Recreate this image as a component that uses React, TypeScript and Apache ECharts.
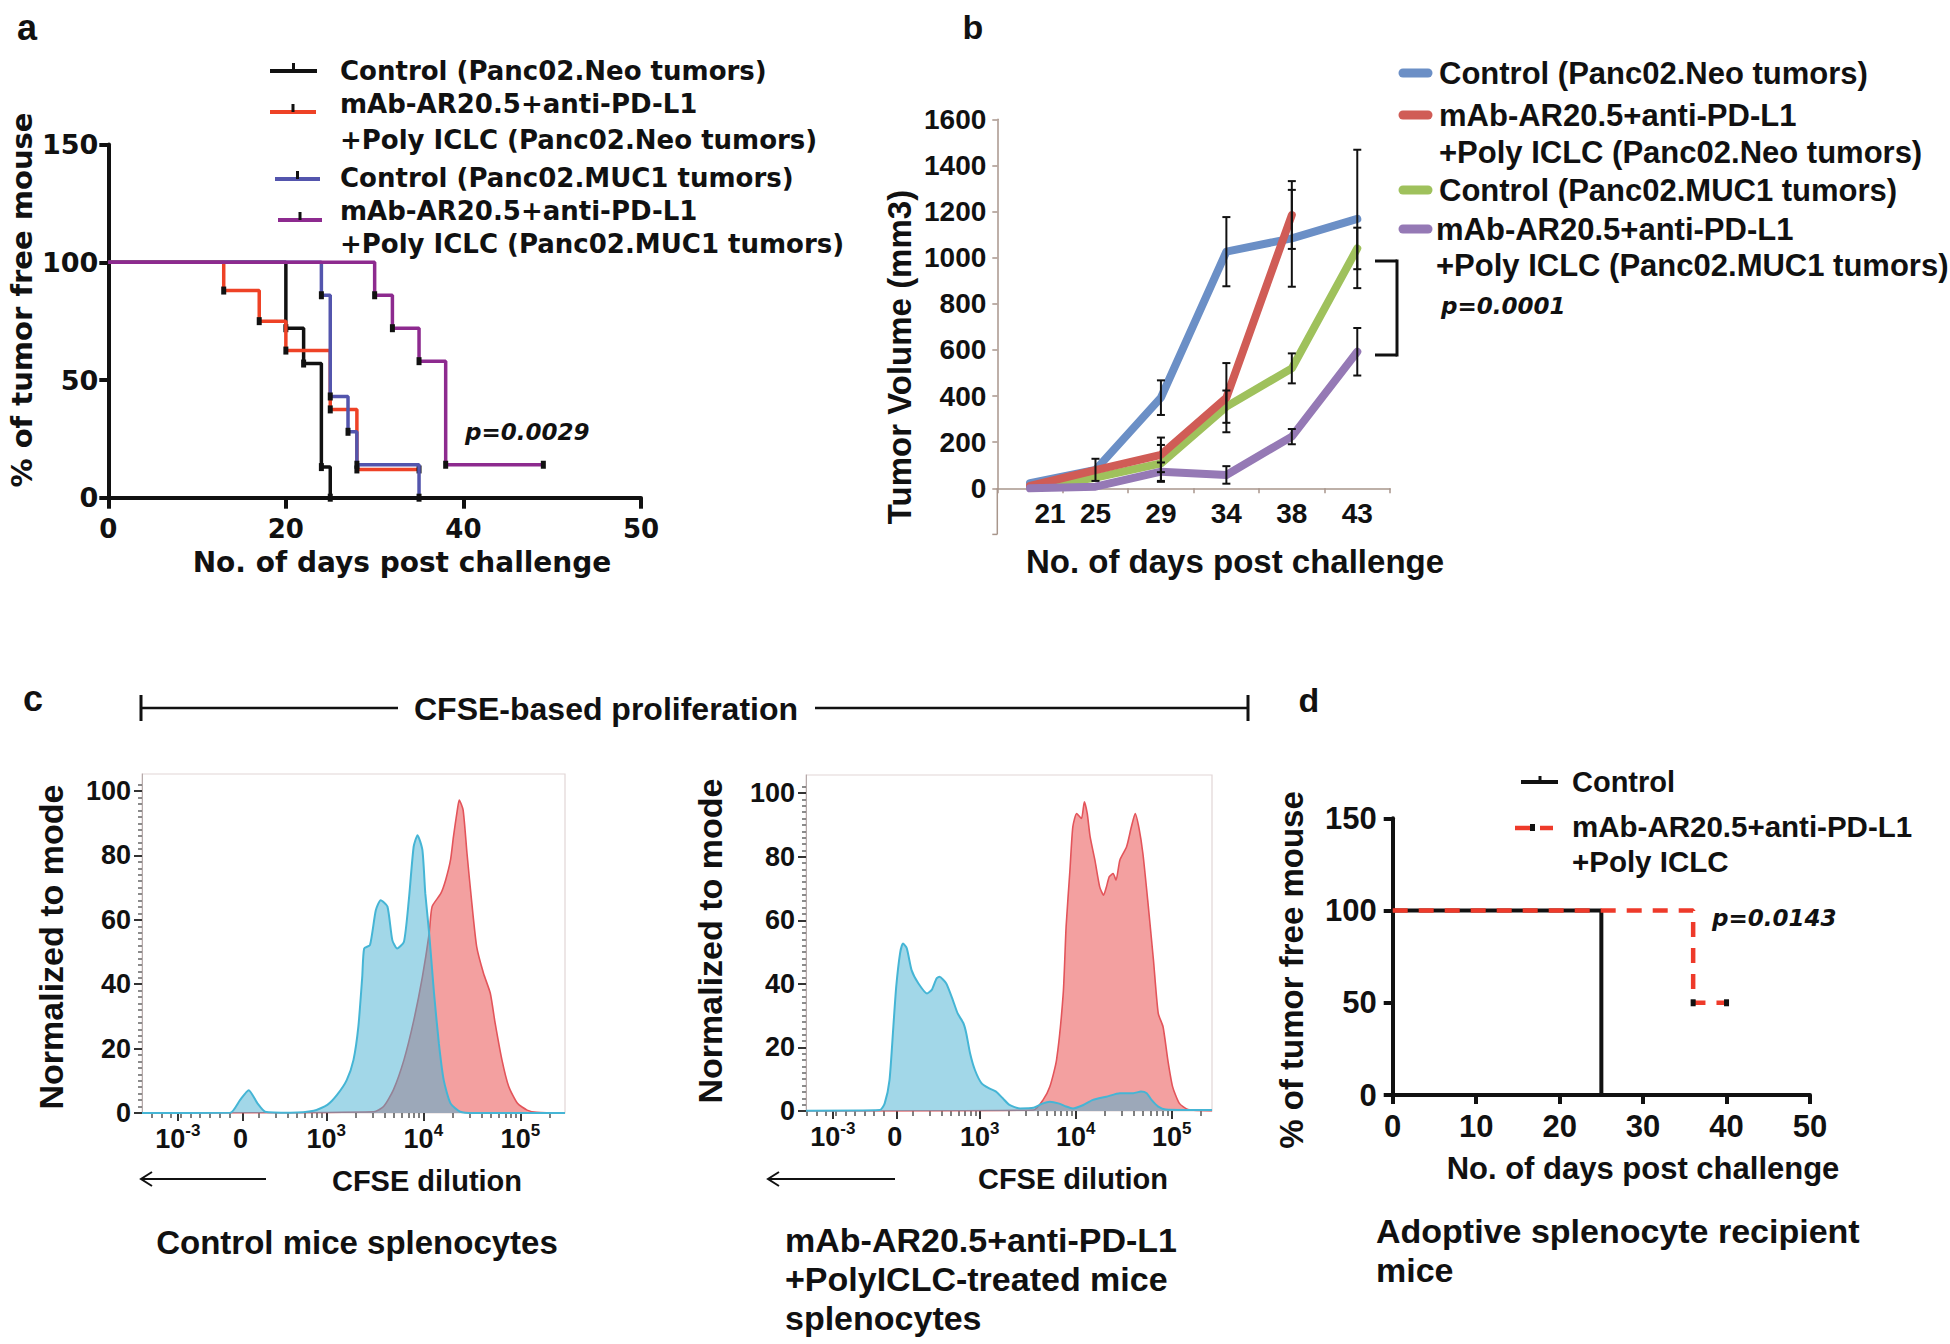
import React, { useEffect, useRef } from 'react';
import * as echarts from 'echarts';

const FONT_A = '"DejaVu Sans", sans-serif';
const FONT = '"Liberation Sans", Arial, sans-serif';

// ---------- Panel a : Kaplan-Meier (x in plotted units, axis reads 0/20/40/50)
const A_X_TICK_LABELS = ['0', '20', '40', '50'];
const A_NAMES = [
  ['Control (Panc02.Neo tumors)'],
  ['mAb-AR20.5+anti-PD-L1', '+Poly ICLC (Panc02.Neo tumors)'],
  ['Control (Panc02.MUC1 tumors)'],
  ['mAb-AR20.5+anti-PD-L1', '+Poly ICLC (Panc02.MUC1 tumors)'],
];
const A_COLORS = ['#111111', '#ee4226', '#5355ad', '#8d2a8f'];
const A_CONTROL_NEO = [[0, 100], [20, 72], [22, 57], [24, 13], [25, 0]];
const A_TREAT_NEO = [[0, 100], [13, 88], [17, 75], [20, 62.5], [25, 37.5], [28, 12], [35, 12]];
const A_CONTROL_MUC1 = [[0, 100], [24, 86], [25, 43], [27, 28], [28, 14], [35, 0]];
const A_TREAT_MUC1 = [[0, 100], [30, 86], [32, 72], [35, 58], [38, 14], [49, 14]];

// ---------- Panel b : tumour volume
const B_DAYS = ['21', '25', '29', '34', '38', '43'];
const B_NAMES = [
  ['Control (Panc02.Neo tumors)'],
  ['mAb-AR20.5+anti-PD-L1', '+Poly ICLC (Panc02.Neo tumors)'],
  ['Control (Panc02.MUC1 tumors)'],
  ['mAb-AR20.5+anti-PD-L1', '+Poly ICLC (Panc02.MUC1 tumors)'],
];
const B_COLORS = ['#6b8fc6', '#d05c56', '#9fc15c', '#9579b5'];
const B_CONTROL_NEO = [22, 80, 393, 1026, 1084, 1168];
const B_TREAT_NEO = [10, 79, 145, 393, 1185, null];
const B_CONTROL_MUC1 = [4, 46, 108, 354, 520, 1040];
const B_TREAT_MUC1 = [0, 7, 72, 58, 224, 592];
const B_ERR_CONTROL_NEO = [null, 48, 75, 150, 210, 300];
const B_ERR_TREAT_NEO = [null, null, 75, 150, 147, null];
const B_ERR_CONTROL_MUC1 = [null, null, 80, 70, 65, 90];
const B_ERR_TREAT_MUC1 = [null, null, 40, 38, 33, 103];

// ---------- Panel c : CFSE histograms  (x = display position in decades)
const HIST_X_LABEL_POS = [1.47, 2.14, 3, 4, 5];
const HIST_X_BASE = ['10', '0', '10', '10', '10'];
const HIST_X_SUP = ['-3', ' ', '3', '4', '5'];
const HIST_Y_MAJOR = [0, 20, 40, 60, 80, 100];
const C_CTRL_CYAN = [[1.10, 0], [2.01, 0.1], [2.11, 4.0], [2.20, 7.1], [2.29, 3.0], [2.37, 0.4], [2.63, 0.1], [2.87, 0.7], [3.01, 2.5], [3.11, 5.6], [3.21, 10.2], [3.28, 16.5], [3.33, 26.8], [3.37, 42.3], [3.39, 51.1], [3.45, 52.2], [3.51, 63.0], [3.56, 66.1], [3.63, 64.1], [3.68, 53.7], [3.73, 51.1], [3.80, 53.2], [3.85, 66.1], [3.90, 82.7], [3.94, 86.3], [3.99, 81.7], [4.02, 68.2], [4.06, 55.8], [4.11, 37.2], [4.16, 21.6], [4.21, 10.2], [4.28, 3.0], [4.38, 0.4], [4.52, 0], [5.46, 0]];
const C_CTRL_RED = [[1.10, 0], [3.49, 0.4], [3.59, 2.0], [3.69, 7.1], [3.80, 16.5], [3.90, 28.6], [3.99, 42.3], [4.06, 55.8], [4.09, 64.1], [4.18, 68.2], [4.23, 72.4], [4.28, 78.6], [4.31, 85.8], [4.35, 94.1], [4.37, 97.2], [4.41, 94.1], [4.45, 80.6], [4.50, 65.1], [4.55, 51.6], [4.62, 43.4], [4.69, 37.2], [4.74, 27.9], [4.81, 16.5], [4.88, 8.2], [4.97, 3.0], [5.07, 0.9], [5.17, 0.2], [5.46, 0]];
const C_TREAT_CYAN = [[1.19, 0.1], [1.96, 0.3], [2.01, 2.4], [2.06, 9.7], [2.10, 26.5], [2.13, 39.1], [2.17, 49.6], [2.20, 52.7], [2.24, 51.2], [2.29, 44.3], [2.36, 40.2], [2.45, 37.0], [2.50, 38.1], [2.55, 41.7], [2.58, 42.2], [2.65, 40.2], [2.72, 34.9], [2.77, 30.7], [2.83, 27.6], [2.86, 24.4], [2.90, 18.1], [2.95, 12.9], [3.02, 8.7], [3.10, 7.1], [3.17, 6.1], [3.24, 4.0], [3.31, 1.9], [3.42, 0.8], [3.56, 1.0], [3.66, 2.4], [3.73, 2.9], [3.82, 2.4], [3.90, 1.4], [3.97, 0.8], [4.08, 1.9], [4.18, 3.5], [4.32, 4.5], [4.46, 5.6], [4.60, 5.6], [4.68, 6.1], [4.74, 5.6], [4.79, 3.5], [4.86, 1.4], [4.94, 0.5], [5.42, 0.3]];
const C_TREAT_RED = [[1.19, 0], [3.56, 0.3], [3.66, 3.5], [3.73, 7.6], [3.80, 16.0], [3.87, 37.0], [3.90, 58.0], [3.94, 75.8], [3.97, 89.4], [4.01, 93.6], [4.06, 92.0], [4.09, 97.3], [4.12, 93.6], [4.15, 86.3], [4.20, 78.9], [4.25, 70.5], [4.29, 67.9], [4.32, 70.5], [4.35, 73.7], [4.39, 74.7], [4.42, 72.6], [4.46, 78.9], [4.53, 83.1], [4.58, 89.4], [4.62, 93.6], [4.66, 88.9], [4.70, 81.0], [4.75, 66.4], [4.81, 47.5], [4.86, 30.7], [4.91, 26.5], [4.96, 16.0], [5.01, 7.6], [5.08, 2.4], [5.17, 0.5], [5.42, 0]];

// ---------- Panel d : adoptive transfer KM
const D_CONTROL = [[0, 100], [25, 0]];
const D_TREAT = [[0, 100], [36, 50], [40, 50]];

// tick decorations for the flow-cytometry axes
const HIST_X_MINOR: number[] = [];
for (let d = 2; d <= 5; d++) for (let k = 2; k <= 9; k++) { const u = d + Math.log10(k); if (u > 2.25) HIST_X_MINOR.push(u); }
for (let i = 0; i < 9; i++) HIST_X_MINOR.push(1.2 + i * 0.1);
const HIST_Y_MINOR: number[] = [];
for (let v = 2; v < 104; v += 2) if (v % 20 !== 0) HIST_Y_MINOR.push(v);

function kmData(pts: number[][]) {
  return pts.map((p, i) => (i === 0 ? { value: p, symbol: 'none' } : { value: p }));
}

function txt(text: string, x: number, y: number, size: number, o: any = {}) {
  return {
    type: 'text', x, y, rotation: o.rot || 0, z: 100, silent: true,
    style: {
      text, fontSize: size, fontWeight: o.weight || 'bold', fontStyle: o.italic ? 'italic' : 'normal',
      fontFamily: o.family || FONT, fill: o.color || '#111', align: o.align || 'left', verticalAlign: 'middle',
    },
  };
}
function seg(x1: number, y1: number, x2: number, y2: number, color = '#111', w = 3, cap = 'butt') {
  return { type: 'line', z: 100, silent: true, shape: { x1, y1, x2, y2 }, style: { stroke: color, lineWidth: w, lineCap: cap } };
}

function errSeries(vals: (number | null)[], errs: (number | null)[]) {
  const data: number[][] = [];
  vals.forEach((v, i) => { const e = errs[i]; if (v != null && e != null) data.push([i, v - e, v + e]); });
  return {
    type: 'custom', xAxisIndex: 1, yAxisIndex: 1, z: 10, silent: true, data, clip: false,
    encode: { x: 0, y: [1, 2] },
    renderItem: (params: any, api: any) => {
      const lo = api.coord([api.value(0), api.value(1)]);
      const hi = api.coord([api.value(0), api.value(2)]);
      const c = 4;
      const st = { stroke: '#111', lineWidth: 2 };
      return {
        type: 'group', children: [
          { type: 'line', shape: { x1: lo[0], y1: lo[1], x2: hi[0], y2: hi[1] }, style: st },
          { type: 'line', shape: { x1: lo[0] - c, y1: lo[1], x2: lo[0] + c, y2: lo[1] }, style: st },
          { type: 'line', shape: { x1: hi[0] - c, y1: hi[1], x2: hi[0] + c, y2: hi[1] }, style: st },
        ],
      };
    },
  };
}

function histAxes(gridIndex: number, xmin: number, xmax: number, ymax: number) {
  const xs = [
    {
      type: 'value', gridIndex, position: 'bottom', min: xmin, max: xmax, axisLine: { show: false }, splitLine: { show: false },
      axisTick: { show: true, customValues: HIST_X_LABEL_POS, length: 8, lineStyle: { color: '#333', width: 2 } },
      axisLabel: {
        show: true, customValues: HIST_X_LABEL_POS, margin: 9,
        formatter: (v: number) => {
          const i = HIST_X_LABEL_POS.findIndex((p) => Math.abs(p - v) < 0.01);
          return i < 0 ? '' : '{b|' + HIST_X_BASE[i] + '}{s|' + HIST_X_SUP[i] + '}';
        },
        rich: {
          b: { fontSize: 27, fontWeight: 'bold', fontFamily: FONT, color: '#111', lineHeight: 30, verticalAlign: 'bottom' },
          s: { fontSize: 17, fontWeight: 'bold', fontFamily: FONT, color: '#111', lineHeight: 20, verticalAlign: 'top', padding: [0, 0, 18, 0] },
        },
      },
    },
    {
      type: 'value', gridIndex, position: 'bottom', offset: 0, min: xmin, max: xmax, axisLine: { show: false }, splitLine: { show: false },
      axisTick: { show: true, customValues: HIST_X_MINOR, length: 5, lineStyle: { color: '#555', width: 1.5 } },
      axisLabel: { show: false },
    },
  ];
  const ys = [
    {
      type: 'value', gridIndex, position: 'left', min: 0, max: ymax, splitLine: { show: false },
      axisLine: { show: true, lineStyle: { color: '#b5aaaa', width: 1 } },
      axisTick: { show: true, customValues: HIST_Y_MAJOR, length: 8, lineStyle: { color: '#333', width: 2 } },
      axisLabel: { show: true, customValues: HIST_Y_MAJOR, margin: 11, fontSize: 27, fontWeight: 'bold', fontFamily: FONT, color: '#111' },
    },
    {
      type: 'value', gridIndex, position: 'left', offset: 0, min: 0, max: ymax, splitLine: { show: false }, axisLine: { show: false },
      axisTick: { show: true, customValues: HIST_Y_MINOR, length: 4, lineStyle: { color: '#666', width: 1.5 } },
      axisLabel: { show: false },
    },
  ];
  return { xs, ys };
}

function histSeries(xIdx: number, yIdx: number, red: number[][], cyan: number[][]) {
  return [
    {
      type: 'line', xAxisIndex: xIdx, yAxisIndex: yIdx, data: red, showSymbol: false, smooth: 0.2, silent: true, z: 2,
      lineStyle: { color: '#e3545a', width: 1.6 }, areaStyle: { color: 'rgb(243,160,160)', opacity: 1 },
    },
    {
      type: 'line', xAxisIndex: xIdx, yAxisIndex: yIdx, data: cyan, showSymbol: false, smooth: 0.2, silent: true, z: 3,
      lineStyle: { color: '#45b5d5', width: 2 }, areaStyle: { color: 'rgb(70,175,210)', opacity: 0.5 },
    },
  ];
}

function buildOption() {
  const kmAxisLine = { show: true, lineStyle: { color: '#111', width: 4 } };
  const kmTick = (len: number) => ({ show: true, length: len, lineStyle: { color: '#111', width: 4 } });
  const bAxisColor = '#a8968c';

  const hL = histAxes(2, 1.10, 5.46, 105.3);
  const hR = histAxes(3, 1.19, 5.42, 105.7);

  const xAxis: any[] = [
    {
      type: 'value', gridIndex: 0, min: 0, max: 60, interval: 20, splitLine: { show: false },
      axisLine: kmAxisLine, axisTick: kmTick(11),
      axisLabel: { margin: 18, fontSize: 26, fontWeight: 'bold', fontFamily: FONT_A, color: '#111', formatter: (v: number) => A_X_TICK_LABELS[Math.round(v / 20)] ?? '' },
    },
    {
      type: 'category', gridIndex: 1, data: B_DAYS, boundaryGap: true,
      axisLine: { show: true, lineStyle: { color: bAxisColor, width: 1.5 } },
      axisTick: { show: true, length: 5, lineStyle: { color: bAxisColor, width: 1.5 } },
      axisLabel: {
        interval: 0, margin: 11, fontSize: 28, fontWeight: 'bold', fontFamily: FONT, color: '#111',
        formatter: (v: string, i: number) => (i === 0 ? '{o|' + v + '}' : v),
        rich: { o: { fontSize: 28, fontWeight: 'bold', fontFamily: FONT, color: '#111', padding: [0, 0, 0, 40] } },
      },
    },
    hL.xs[0], hL.xs[1], hR.xs[0], hR.xs[1],
    {
      type: 'value', gridIndex: 4, min: 0, max: 50, interval: 10, splitLine: { show: false },
      axisLine: kmAxisLine, axisTick: kmTick(9),
      axisLabel: { margin: 16, fontSize: 31, fontWeight: 'bold', fontFamily: FONT, color: '#111' },
    },
  ];
  const yAxis: any[] = [
    {
      type: 'value', gridIndex: 0, min: 0, max: 150, interval: 50, splitLine: { show: false },
      axisLine: kmAxisLine, axisTick: kmTick(9),
      axisLabel: { margin: 10, fontSize: 27, fontWeight: 'bold', fontFamily: FONT_A, color: '#111' },
    },
    {
      type: 'value', gridIndex: 1, min: 0, max: 1600, interval: 200, splitLine: { show: false },
      axisLine: { show: true, lineStyle: { color: bAxisColor, width: 1.5 } },
      axisTick: { show: true, length: 5, lineStyle: { color: bAxisColor, width: 1.5 } },
      axisLabel: { margin: 11, fontSize: 28, fontWeight: 'bold', fontFamily: FONT, color: '#111', formatter: (v: number) => String(v) },
    },
    hL.ys[0], hL.ys[1], hR.ys[0], hR.ys[1],
    {
      type: 'value', gridIndex: 4, min: 0, max: 150, interval: 50, splitLine: { show: false },
      axisLine: kmAxisLine, axisTick: kmTick(9),
      axisLabel: { margin: 16, fontSize: 31, fontWeight: 'bold', fontFamily: FONT, color: '#111' },
    },
  ];

  const aData = [A_CONTROL_NEO, A_TREAT_NEO, A_CONTROL_MUC1, A_TREAT_MUC1];
  const aSeries = aData.map((d, i) => ({
    type: 'line', name: A_NAMES[i].join(' '), xAxisIndex: 0, yAxisIndex: 0, step: 'end', data: kmData(d), silent: true,
    z: 3 + i, symbol: 'rect', symbolSize: [5, 8], showSymbol: true, showAllSymbol: true,
    itemStyle: { color: '#111' }, lineStyle: { color: A_COLORS[i], width: 3.5 },
  }));

  const bData = [B_CONTROL_NEO, B_CONTROL_MUC1, B_TREAT_NEO, B_TREAT_MUC1];
  const bColorIdx = [0, 2, 1, 3];
  const bSeries = bData.map((d, k) => ({
    type: 'line', name: B_NAMES[bColorIdx[k]].join(' '), xAxisIndex: 1, yAxisIndex: 1, data: d, silent: true,
    showSymbol: false, symbol: 'none', z: 4 + k, clip: false,
    lineStyle: { color: B_COLORS[bColorIdx[k]], width: 8, cap: 'round', join: 'round' },
  }));
  const bErr = [
    errSeries(B_CONTROL_NEO, B_ERR_CONTROL_NEO), errSeries(B_TREAT_NEO, B_ERR_TREAT_NEO),
    errSeries(B_CONTROL_MUC1, B_ERR_CONTROL_MUC1), errSeries(B_TREAT_MUC1, B_ERR_TREAT_MUC1),
  ];

  const dSeries = [
    {
      type: 'line', name: 'Control', xAxisIndex: 6, yAxisIndex: 6, step: 'end', data: D_CONTROL, silent: true, z: 3,
      showSymbol: false, lineStyle: { color: '#111', width: 4 },
    },
    {
      type: 'line', name: 'mAb-AR20.5+anti-PD-L1 +Poly ICLC', xAxisIndex: 6, yAxisIndex: 6, step: 'end', data: kmData(D_TREAT), silent: true, z: 4,
      symbol: 'rect', symbolSize: [5, 7], showSymbol: true, showAllSymbol: true, itemStyle: { color: '#111' },
      lineStyle: { color: '#ee3a2a', width: 4.5, type: [15, 11] },
    },
  ];

  const g: any[] = [];
  // panel letters
  g.push(txt('a', 27, 27, 36, { align: 'center' }));
  g.push(txt('b', 973, 27, 34, { align: 'center' }));
  g.push(txt('c', 33, 698, 36, { align: 'center' }));
  g.push(txt('d', 1309, 700, 34, { align: 'center' }));

  // panel a legend
  const aRowY = [[71], [104, 140], [178], [211, 244]];
  const aSw = [[270, 317, 71], [270, 316, 112], [275, 320, 179], [278, 322, 220]];
  A_NAMES.forEach((lines, i) => {
    const [x1, x2, y] = aSw[i];
    g.push(seg(x1, y, x2, y, A_COLORS[i], 4));
    g.push(seg((x1 + x2) / 2, y - 8, (x1 + x2) / 2, y, '#111', 3));
    lines.forEach((t, j) => g.push(txt(t, 340, aRowY[i][j], 26, { family: FONT_A })));
  });
  g.push(txt('p=0.0029', 465, 432, 23, { family: FONT_A, italic: true }));
  g.push(txt('% of tumor free mouse', 22, 300, 29, { family: FONT_A, rot: Math.PI / 2, align: 'center' }));
  g.push(txt('No. of days post challenge', 402, 562, 28, { family: FONT_A, align: 'center' }));

  // panel b: y-axis continues below zero, legend, bracket, titles
  g.push(seg(997.3, 488.3, 997.3, 534.4, bAxisColor, 1.5));
  g.push(seg(992.3, 534.4, 997.3, 534.4, bAxisColor, 1.5));
  const bRowY = [[73], [115, 152], [190], [229, 265]];
  const bTextX = [1439, 1439, 1439, 1436];
  B_NAMES.forEach((lines, i) => {
    g.push(seg(1403, bRowY[i][0], 1428, bRowY[i][0], B_COLORS[i], 9, 'round'));
    lines.forEach((t, j) => g.push(txt(t, bTextX[i], bRowY[i][j], 31)));
  });
  g.push(seg(1375, 261, 1397, 261, '#111', 3));
  g.push(seg(1397, 259.5, 1397, 356.5, '#111', 3));
  g.push(seg(1375, 355, 1397, 355, '#111', 3));
  g.push(txt('p=0.0001', 1441, 306, 23, { family: FONT_A, italic: true }));
  g.push(txt('Tumor Volume (mm3)', 899, 357, 33, { rot: Math.PI / 2, align: 'center' }));
  g.push(txt('No. of days post challenge', 1235, 561, 33, { align: 'center' }));

  // panel c header
  g.push(seg(141, 695, 141, 721, '#111', 3));
  g.push(seg(141, 708, 398, 708, '#111', 2.5));
  g.push(txt('CFSE-based proliferation', 606, 709, 32, { align: 'center' }));
  g.push(seg(815, 708, 1248, 708, '#111', 2.5));
  g.push(seg(1248, 695, 1248, 721, '#111', 3));
  g.push(txt('Normalized to mode', 51, 947, 34, { rot: Math.PI / 2, align: 'center' }));
  g.push(txt('Normalized to mode', 710, 941, 34, { rot: Math.PI / 2, align: 'center' }));
  g.push(txt('CFSE dilution', 427, 1181, 29, { align: 'center' }));
  g.push(txt('CFSE dilution', 1073, 1179, 29, { align: 'center' }));
  [[141, 266, 1179], [768, 895, 1179]].forEach(([x1, x2, y]) => {
    g.push(seg(x1, y, x2, y, '#111', 2));
    g.push({ type: 'polyline', z: 100, silent: true, shape: { points: [[x1 + 11, y - 7], [x1, y], [x1 + 11, y + 7]] }, style: { stroke: '#111', lineWidth: 2, fill: 'none' } });
  });
  g.push(txt('Control mice splenocytes', 357, 1242, 33, { align: 'center' }));
  g.push(txt('mAb-AR20.5+anti-PD-L1', 785, 1240, 34));
  g.push(txt('+PolyICLC-treated mice', 785, 1279, 34));
  g.push(txt('splenocytes', 785, 1318, 34));

  // panel d legend & labels
  g.push(seg(1521, 782, 1558, 782, '#111', 4));
  g.push(seg(1540, 776, 1540, 782, '#111', 3));
  g.push(txt('Control', 1572, 782, 29));
  g.push(seg(1515, 828, 1530, 828, '#ee3a2a', 4.5));
  g.push({ type: 'rect', z: 100, silent: true, shape: { x: 1530, y: 824, width: 5, height: 7 }, style: { fill: '#111' } });
  g.push(seg(1540, 828, 1553, 828, '#ee3a2a', 4.5));
  g.push(txt('mAb-AR20.5+anti-PD-L1', 1572, 826, 29.5));
  g.push(txt('+Poly ICLC', 1572, 861, 29.5));
  g.push(txt('p=0.0143', 1712, 918, 23, { family: FONT_A, italic: true }));
  g.push(txt('% of tumor free mouse', 1291, 970, 33, { rot: Math.PI / 2, align: 'center' }));
  g.push(txt('No. of days post challenge', 1643, 1168, 31, { align: 'center' }));
  g.push(txt('Adoptive splenocyte recipient', 1376, 1231, 34));
  g.push(txt('mice', 1376, 1270, 34));

  return {
    animation: false,
    backgroundColor: '#ffffff',
    grid: [
      { left: 108.3, top: 144.6, width: 532.7, height: 353.1 },
      { left: 997.3, top: 119.3, width: 392.7, height: 369 },
      { left: 142, top: 774, width: 423, height: 339, show: true, borderColor: '#e2d6d6', borderWidth: 1.2, backgroundColor: 'transparent' },
      { left: 806, top: 775, width: 406, height: 336, show: true, borderColor: '#e2d6d6', borderWidth: 1.2, backgroundColor: 'transparent' },
      { left: 1392.7, top: 818.3, width: 417.3, height: 276.7 },
    ],
    xAxis,
    yAxis,
    series: [
      ...aSeries,
      ...bSeries,
      ...bErr,
      ...histSeries(2, 2, C_CTRL_RED, C_CTRL_CYAN),
      ...histSeries(4, 4, C_TREAT_RED, C_TREAT_CYAN),
      ...dSeries,
    ],
    graphic: g,
  };
}

export default function App() {
  const ref = useRef<HTMLDivElement>(null);
  useEffect(() => {
    const chart = echarts.init(ref.current as HTMLDivElement, null, { renderer: 'svg' });
    chart.setOption(buildOption() as any);
    return () => chart.dispose();
  }, []);
  return <div ref={ref} style={{ position: 'absolute', left: 0, top: 0, width: 1950, height: 1344, background: '#fff' }} />;
}
